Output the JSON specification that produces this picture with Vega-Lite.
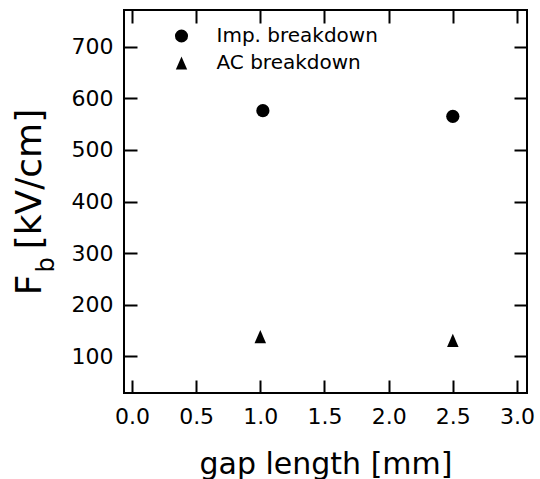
{
  "$schema": "https://vega.github.io/schema/vega-lite/v6.json",
  "width": 403,
  "height": 383,
  "autosize": {"type": "none"},
  "padding": {"left": 124, "top": 10, "right": 13, "bottom": 86},
  "background": "white",
  "config": {
    "font": "DejaVu Sans",
    "view": {"stroke": "black", "strokeWidth": 2},
    "axis": {
      "grid": false,
      "domain": false,
      "tickColor": "black",
      "tickWidth": 2,
      "tickSize": -13,
      "labelColor": "black",
      "titleColor": "black",
      "labelFont": "DejaVu Sans",
      "titleFont": "DejaVu Sans",
      "titleFontWeight": "normal"
    },
    "legend": {"labelFont": "DejaVu Sans"}
  },
  "data": {
    "values": [
      {"gap": 1.02, "Fb": 576, "type": "Imp. breakdown"},
      {"gap": 2.5, "Fb": 565, "type": "Imp. breakdown"},
      {"gap": 1.0, "Fb": 138, "type": "AC breakdown"},
      {"gap": 2.5, "Fb": 131, "type": "AC breakdown"}
    ]
  },
  "layer": [
    {
      "mark": {"type": "point", "filled": true, "color": "black", "opacity": 1, "size": 175},
      "encoding": {
        "x": {
          "field": "gap",
          "type": "quantitative",
          "scale": {"domain": [-0.062, 3.078], "nice": false, "zero": false},
          "axis": {
            "orient": "bottom",
            "values": [0, 0.5, 1, 1.5, 2, 2.5, 3],
            "format": ".1f",
            "labelFontSize": 22,
            "labelBaseline": "alphabetic",
            "labelPadding": 43,
            "labelFlush": false,
            "title": "gap length [mm]",
            "titleFontSize": 30,
            "titleX": 201.5,
            "titleY": 80,
            "titleAlign": "center",
            "titleBaseline": "alphabetic"
          }
        },
        "y": {
          "field": "Fb",
          "type": "quantitative",
          "scale": {"domain": [29, 771], "nice": false, "zero": false},
          "axis": {
            "orient": "left",
            "values": [100, 200, 300, 400, 500, 600, 700],
            "labelFontSize": 22,
            "labelPadding": 24,
            "labelFlush": false,
            "title": "F\u2002\u2009[kV/cm]",
            "titleFontSize": 36,
            "titleAngle": 270,
            "titleX": -84,
            "titleY": 191.5,
            "titleAlign": "center",
            "titleBaseline": "alphabetic"
          }
        },
        "shape": {
          "field": "type",
          "type": "nominal",
          "scale": {
            "domain": ["Imp. breakdown", "AC breakdown"],
            "range": ["circle", "M0,-1L-0.87,1L0.87,1Z"]
          },
          "legend": {
            "title": null,
            "orient": "none",
            "legendX": 47.5,
            "legendY": 16,
            "padding": 0,
            "symbolSize": 170,
            "symbolFillColor": "black",
            "symbolStrokeColor": "black",
            "symbolStrokeWidth": 0,
            "labelFontSize": 20,
            "labelLimit": 400,
            "labelColor": "black",
            "labelOffset": 25,
            "rowPadding": 7
          }
        }
      }
    },
    {
      "mark": {"type": "point", "opacity": 0},
      "encoding": {
        "x": {
          "field": "gap",
          "type": "quantitative",
          "scale": {"domain": [-0.062, 3.078], "nice": false, "zero": false},
          "axis": {"orient": "top", "values": [0, 0.5, 1, 1.5, 2, 2.5, 3], "labels": false, "title": null}
        },
        "y": {
          "field": "Fb",
          "type": "quantitative",
          "scale": {"domain": [29, 771], "nice": false, "zero": false},
          "axis": {"orient": "right", "values": [100, 200, 300, 400, 500, 600, 700], "labels": false, "title": null}
        }
      }
    },
    {
      "mark": {"type": "point", "opacity": 0},
      "encoding": {
        "x": {
          "field": "gap",
          "type": "quantitative",
          "scale": {"domain": [-0.062, 3.078], "nice": false, "zero": false},
          "axis": null
        },
        "y": {
          "field": "Fb",
          "type": "quantitative",
          "scale": {"domain": [29, 771], "nice": false, "zero": false},
          "axis": {
            "orient": "left",
            "ticks": false,
            "labels": false,
            "domain": false,
            "title": "b",
            "titleFontSize": 24,
            "titleAngle": 270,
            "titleX": -71,
            "titleY": 262,
            "titleAlign": "left",
            "titleBaseline": "alphabetic"
          }
        }
      }
    }
  ],
  "resolve": {"axis": {"x": "independent", "y": "independent"}}
}
